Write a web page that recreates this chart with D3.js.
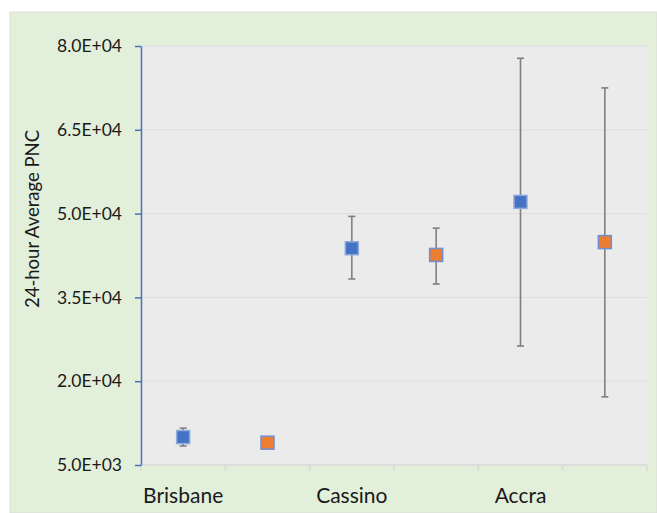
<!DOCTYPE html>
<html>
<head>
<meta charset="utf-8">
<script src="https://cdn.jsdelivr.net/npm/d3@7"></script>
<style>
  body { margin: 0; background: #fff; }
  svg text { font-family: Lato, "Open Sans", sans-serif; fill: #1a1a1a; }
</style>
</head>
<body>
<script>
// chart data
var categories = ["Brisbane", "", "Cassino", "", "Accra", ""];
var blueSlots = [0, 2, 4];
var blueMean = [10000, 43800, 52100];
var blueLow = [8400, 38300, 26300];
var blueHigh = [11600, 49500, 77800];
var orangeSlots = [1, 3, 5];
var orangeMean = [9000, 42600, 44900];
var orangeLow = [8800, 37400, 17200];
var orangeHigh = [9200, 47400, 72500];
var yTicks = [5000, 20000, 35000, 50000, 65000, 80000];

var w = 657, h = 513;
var svg = d3.select("body").append("svg")
    .attr("width", w)
    .attr("height", h);

// outer green panel
svg.append("rect")
    .attr("x", 10).attr("y", 12)
    .attr("width", w - 10).attr("height", h - 12)
    .attr("fill", "#e2efda")
    .attr("stroke", "#d9dfd5").attr("stroke-width", 1);

var x = d3.scaleBand()
    .domain(d3.range(categories.length))
    .range([141, 647]);

var y = d3.scaleLinear()
    .domain([5000, 80000])
    .range([465, 46]);

// plot area
svg.append("rect")
    .attr("x", x.range()[0]).attr("y", y(80000))
    .attr("width", x.range()[1] - x.range()[0])
    .attr("height", y(5000) - y(80000))
    .attr("fill", "#ebebeb");

// gridlines
svg.append("g")
    .selectAll("line")
    .data(yTicks.slice(1))
    .enter().append("line")
    .attr("x1", 141).attr("x2", 647)
    .attr("y1", function(d){ return y(d); })
    .attr("y2", function(d){ return y(d); })
    .attr("stroke", "#dedede").attr("stroke-width", 1);

// x axis: ticks at band edges
var xAxis = svg.append("g").attr("transform", "translate(0," + y(5000) + ")");
xAxis.append("line")
    .attr("x1", 141).attr("x2", 647)
    .attr("stroke", "#d9d9d9").attr("stroke-width", 1.5);
xAxis.selectAll(".xt")
    .data(d3.range(categories.length + 1))
    .enter().append("line")
    .attr("class", "xt")
    .attr("x1", function(i){ return i < categories.length ? x(i) : x(i - 1) + x.bandwidth(); })
    .attr("x2", function(i){ return i < categories.length ? x(i) : x(i - 1) + x.bandwidth(); })
    .attr("y1", 0).attr("y2", 6)
    .attr("stroke", "#d9d9d9").attr("stroke-width", 1.5);
xAxis.selectAll(".xl")
    .data(categories)
    .enter().append("text")
    .attr("class", "xl")
    .attr("x", function(d, i){ return x(i) + x.bandwidth() / 2; })
    .attr("y", 38)
    .attr("text-anchor", "middle")
    .attr("font-size", "21px")
    .text(function(d){ return d; });

// y axis
var yAxis = d3.axisLeft(y)
    .tickValues(yTicks)
    .tickSize(6)
    .tickSizeOuter(0)
    .tickPadding(13)
    .tickFormat(function(d){
        return d3.format(".1e")(d).replace("e+", "E+0");
    });
var ya = svg.append("g")
    .attr("transform", "translate(141,0)")
    .call(yAxis);
ya.select(".domain").attr("stroke", "#4a72b8").attr("stroke-width", 1.5);
ya.selectAll(".tick line").attr("stroke", "#4a72b8").attr("stroke-width", 1.5);
ya.selectAll(".tick text")
    .attr("font-size", "17.5px")
    .attr("font-family", "Lato, sans-serif")
    .attr("fill", "#1a1a1a");

// y axis title
svg.append("text")
    .attr("transform", "translate(39,219) rotate(-90)")
    .attr("text-anchor", "middle")
    .attr("font-size", "18.5px")
    .text("24-hour Average PNC");

function drawSeries(slots, mean, low, high, fill, stroke){
    var g = svg.append("g");
    var cx = function(d, i){ return x(slots[i]) + x.bandwidth() / 2; };
    // error bars
    g.selectAll(".eb")
        .data(mean).enter().append("line")
        .attr("x1", cx).attr("x2", cx)
        .attr("y1", function(d, i){ return y(low[i]); })
        .attr("y2", function(d, i){ return y(high[i]); })
        .attr("stroke", "#7f7f7f").attr("stroke-width", 1.6);
    [low, high].forEach(function(arr){
        g.selectAll(null)
            .data(mean).enter().append("line")
            .attr("x1", function(d, i){ return cx(d, i) - 3.5; })
            .attr("x2", function(d, i){ return cx(d, i) + 3.5; })
            .attr("y1", function(d, i){ return y(arr[i]); })
            .attr("y2", function(d, i){ return y(arr[i]); })
            .attr("stroke", "#7f7f7f").attr("stroke-width", 1.6);
    });
    // square markers
    g.selectAll(".mk")
        .data(mean).enter().append("rect")
        .attr("x", function(d, i){ return cx(d, i) - 6.5; })
        .attr("y", function(d){ return y(d) - 6.5; })
        .attr("width", 13).attr("height", 13)
        .attr("fill", fill)
        .attr("stroke", stroke).attr("stroke-width", 1.5);
}

drawSeries(blueSlots, blueMean, blueLow, blueHigh, "#4472c4", "#8eaadb");
drawSeries(orangeSlots, orangeMean, orangeLow, orangeHigh, "#ed7d31", "#6f8fd3");
</script>
</body>
</html>
